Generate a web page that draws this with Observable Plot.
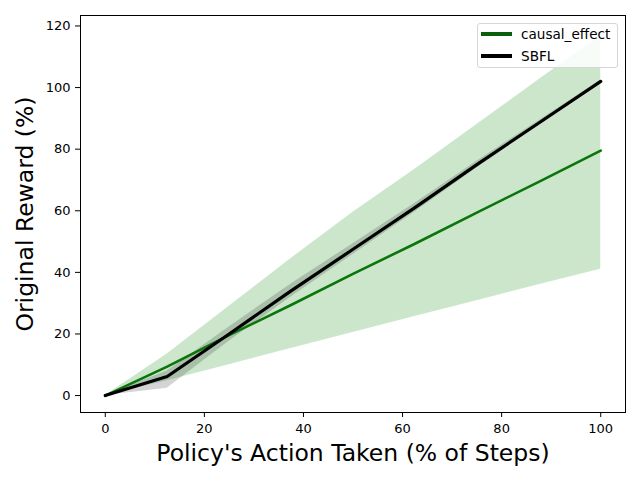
<!DOCTYPE html>
<html>
<head>
<meta charset="utf-8">
<script src="https://cdn.jsdelivr.net/npm/d3@7"></script>
<script src="https://cdn.jsdelivr.net/npm/@observablehq/plot@0.6"></script>
<style>
  html, body { margin: 0; padding: 0; background: #fff; }
  #wrap { position: relative; width: 640px; height: 480px; font-family: "DejaVu Sans", sans-serif; }
  #legend { position: absolute; left: 477px; top: 23px; width: 141px; height: 45px; box-sizing: border-box;
    background: rgba(255,255,255,0.85); border: 1px solid #d6d6d6; border-radius: 3px; font-size: 13.6px; color: #000; }
  .row { position: absolute; left: 3px; height: 18px; display: flex; align-items: center; white-space: nowrap; }
  .swatch { width: 31px; height: 3.3px; margin-right: 9px; }
</style>
</head>
<body>
<div id="wrap"></div>
<script>
const steps = [0, 12.5, 25, 37.5, 50, 62.5, 75, 87.5, 100];
const causalMean = [0, 9.4, 19.6, 29.4, 39.5, 49.3, 59.4, 69.4, 79.5];
const causalLow  = [0, 4.8, 10, 15.3, 20.5, 25.7, 30.8, 36, 41];
const causalHigh = [0, 13.5, 29, 44.5, 59.5, 73.5, 88, 102.5, 117];
const sbflMean = [0, 6.2, 20, 34, 47.5, 61, 75, 88.5, 102];
const sbflLow  = [0, 2.4, 17.6, 32, 45.8, 59.6, 73.9, 87.8, 101.6];
const sbflHigh = [0, 8.0, 22.3, 36.2, 49.3, 62.4, 76.1, 89.2, 102.4];
const xTicks = [0, 20, 40, 60, 80, 100];
const yTicks = [0, 20, 40, 60, 80, 100, 120];
const seriesNames = ["causal_effect", "SBFL"];
const lineColors = ["#0b750b", "#000000"];
const legendColors = ["#0b5f0b", "#000000"];

const causal = steps.map((x, i) => ({x, y: causalMean[i], lo: causalLow[i], hi: causalHigh[i]}));
const sbfl = steps.map((x, i) => ({x, y: sbflMean[i], lo: sbflLow[i], hi: sbflHigh[i]}));

const chart = Plot.plot({
  width: 640,
  height: 480,
  marginLeft: 80,
  marginRight: 15,
  marginTop: 15,
  marginBottom: 68,
  style: {fontFamily: "DejaVu Sans, sans-serif", fontSize: "13px", color: "#000", background: "#fff"},
  x: {domain: [-5, 105]},
  y: {domain: [-5.5, 123.4]},
  marks: [
    Plot.areaY(causal, {x: "x", y1: "lo", y2: "hi", fill: "green", fillOpacity: 0.2}),
    Plot.areaY(sbfl, {x: "x", y1: "lo", y2: "hi", fill: "black", fillOpacity: 0.17}),
    Plot.line(causal, {x: "x", y: "y", stroke: lineColors[0], strokeWidth: 2.6}),
    Plot.line(sbfl, {x: "x", y: "y", stroke: lineColors[1], strokeWidth: 3.2}),
    Plot.axisX({ticks: xTicks, tickSize: 5, tickPadding: 6, label: null, fontSize: 13}),
    Plot.axisY({ticks: yTicks, tickSize: 5, tickPadding: 5, label: null, fontSize: 13}),
    Plot.frame({stroke: "#000", strokeWidth: 1}),
    Plot.text(["Policy's Action Taken (% of Steps)"], {frameAnchor: "bottom", text: d => d, lineAnchor: "middle", dy: 40.5, fontSize: 23.5}),
    Plot.text(["Original Reward (%)"], {frameAnchor: "left", text: d => d, rotate: -90, textAnchor: "middle", lineAnchor: "middle", dx: -55, fontSize: 23.5})
  ]
});

const wrap = document.getElementById("wrap");
wrap.appendChild(chart);
const legend = document.createElement("div");
legend.id = "legend";
seriesNames.forEach((name, i) => {
  const row = document.createElement("div");
  row.className = "row";
  row.style.top = (1 + i * 22) + "px";
  const sw = document.createElement("div");
  sw.className = "swatch";
  sw.style.background = legendColors[i];
  const t = document.createElement("span");
  t.textContent = name;
  row.appendChild(sw);
  row.appendChild(t);
  legend.appendChild(row);
});
wrap.appendChild(legend);
</script>
</body>
</html>
